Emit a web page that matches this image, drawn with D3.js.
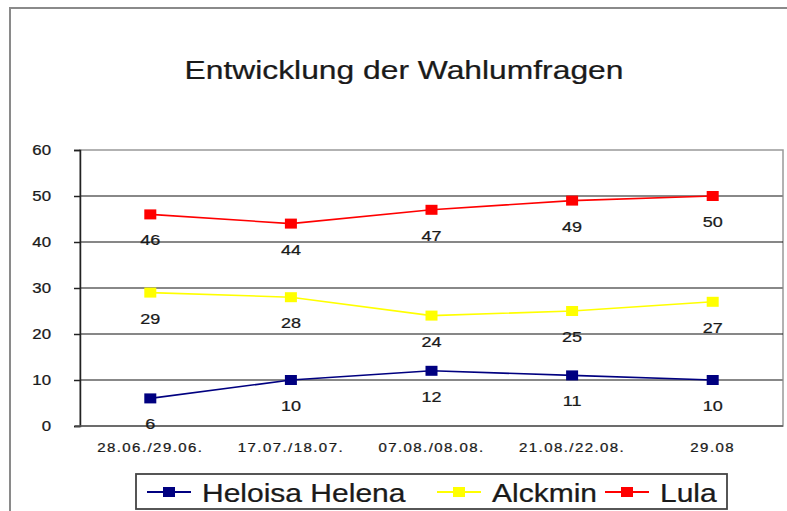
<!DOCTYPE html>
<html>
<head>
<meta charset="utf-8">
<script src="https://cdn.jsdelivr.net/npm/d3@7"></script>
<style>
body{margin:0;background:#fff;}
text{font-family:"Liberation Sans",Arial,sans-serif;fill:#1a1a1a;stroke:#1a1a1a;stroke-width:0.25;}
</style>
</head>
<body>
<script>
// survey dates and results (percent)
var dates=["28.06./29.06.","17.07./18.07.","07.08./08.08.","21.08./22.08.","29.08"];
var heloisa=[6,10,12,11,10];
var alckmin=[29,28,24,25,27];
var lula=[46,44,47,49,50];
var names=["Heloisa Helena","Alckmin","Lula"];
var colors=["#000080","#ffff00","#ff0000"];
var yTicks=[0,10,20,30,40,50,60];

var W=787,H=511;
var sx=1.2; // the picture is stretched a bit sideways
var plot={l:80,r:783,t:150,b:426};

var svg=d3.select("body").append("svg").attr("width",W).attr("height",H);
svg.append("rect").attr("width",W).attr("height",H).attr("fill","#fff");

// outer chart frame
svg.append("rect")
    .attr("x",10).attr("y",8).attr("width",W+20).attr("height",H+20)
    .attr("fill","none").attr("stroke","#8a8a8a").attr("stroke-width",2);

function txt(g,s,x,y,size,anchor) {
    return g.append("text")
        .attr("transform","translate("+x+","+y+") scale("+sx+",1)")
        .attr("font-size",size)
        .attr("text-anchor",anchor||"middle")
        .text(s);
}

txt(svg,"Entwicklung der Wahlumfragen",404,79,26.5);

var x=d3.scaleBand().domain(dates).range([plot.l,plot.r]);
var y=d3.scaleLinear().domain([0,60]).range([plot.b,plot.t]);
var cx=function(d){return x(d)+x.bandwidth()/2;};

// plot area border
svg.append("rect")
    .attr("x",plot.l).attr("y",plot.t)
    .attr("width",plot.r-plot.l).attr("height",plot.b-plot.t)
    .attr("fill","none").attr("stroke","#999").attr("stroke-width",1.5);

// gridlines
svg.selectAll("line.grid")
    .data(yTicks.filter(function(d){return d>0&&d<60;}))
    .enter().append("line")
    .attr("class","grid")
    .attr("x1",plot.l).attr("x2",plot.r)
    .attr("y1",function(d){return y(d);}).attr("y2",function(d){return y(d);})
    .attr("stroke",function(d){return d%20===0?"#111":"#888";})
    .attr("stroke-width",function(d){return d%20===0?1.2:2.2;});

// y axis
var yAxis=svg.append("g").attr("transform","translate("+plot.l+",0)")
    .call(d3.axisLeft(y).tickValues(yTicks).tickSize(6).tickFormat(""));
yAxis.select(".domain").attr("stroke","#222").attr("stroke-width",1.5);
yAxis.selectAll(".tick line").attr("stroke","#222").attr("stroke-width",1.5);
yTicks.forEach(function(t){ txt(svg,t,51,y(t)+5,14,"end"); });

// x axis
svg.append("line")
    .attr("x1",plot.l-5).attr("x2",plot.r)
    .attr("y1",plot.b).attr("y2",plot.b)
    .attr("stroke","#555").attr("stroke-width",1.5);
dates.forEach(function(d){
    txt(svg,d,cx(d),452,12.5).attr("letter-spacing",1.2);
});

var series=[heloisa,alckmin,lula];
var line=d3.line().x(function(d,i){return cx(dates[i]);}).y(function(d){return y(d);});

series.forEach(function(vals,k){
    var g=svg.append("g");
    g.append("path").datum(vals)
        .attr("d",line).attr("fill","none")
        .attr("stroke",colors[k]).attr("stroke-width",1.6);
    g.selectAll("rect").data(vals).enter().append("rect")
        .attr("x",function(d,i){return cx(dates[i])-6;})
        .attr("y",function(d){return y(d)-5;})
        .attr("width",12).attr("height",10)
        .attr("fill",colors[k]);
    vals.forEach(function(v,i){
        txt(svg,v,cx(dates[i]),y(v)+31,15);
    });
});

// legend
var lg=svg.append("g");
lg.append("rect")
    .attr("x",136).attr("y",474).attr("width",591).attr("height",35)
    .attr("fill","#fff").attr("stroke","#444").attr("stroke-width",1.8);
var lx=[147,437,605];
names.forEach(function(n,k){
    lg.append("line")
        .attr("x1",lx[k]).attr("x2",lx[k]+44)
        .attr("y1",492).attr("y2",492)
        .attr("stroke",colors[k]).attr("stroke-width",2);
    lg.append("rect")
        .attr("x",lx[k]+16).attr("y",487)
        .attr("width",12).attr("height",10)
        .attr("fill",colors[k]);
    txt(lg,n,lx[k]+55,502,25,"start");
});
</script>
</body>
</html>
